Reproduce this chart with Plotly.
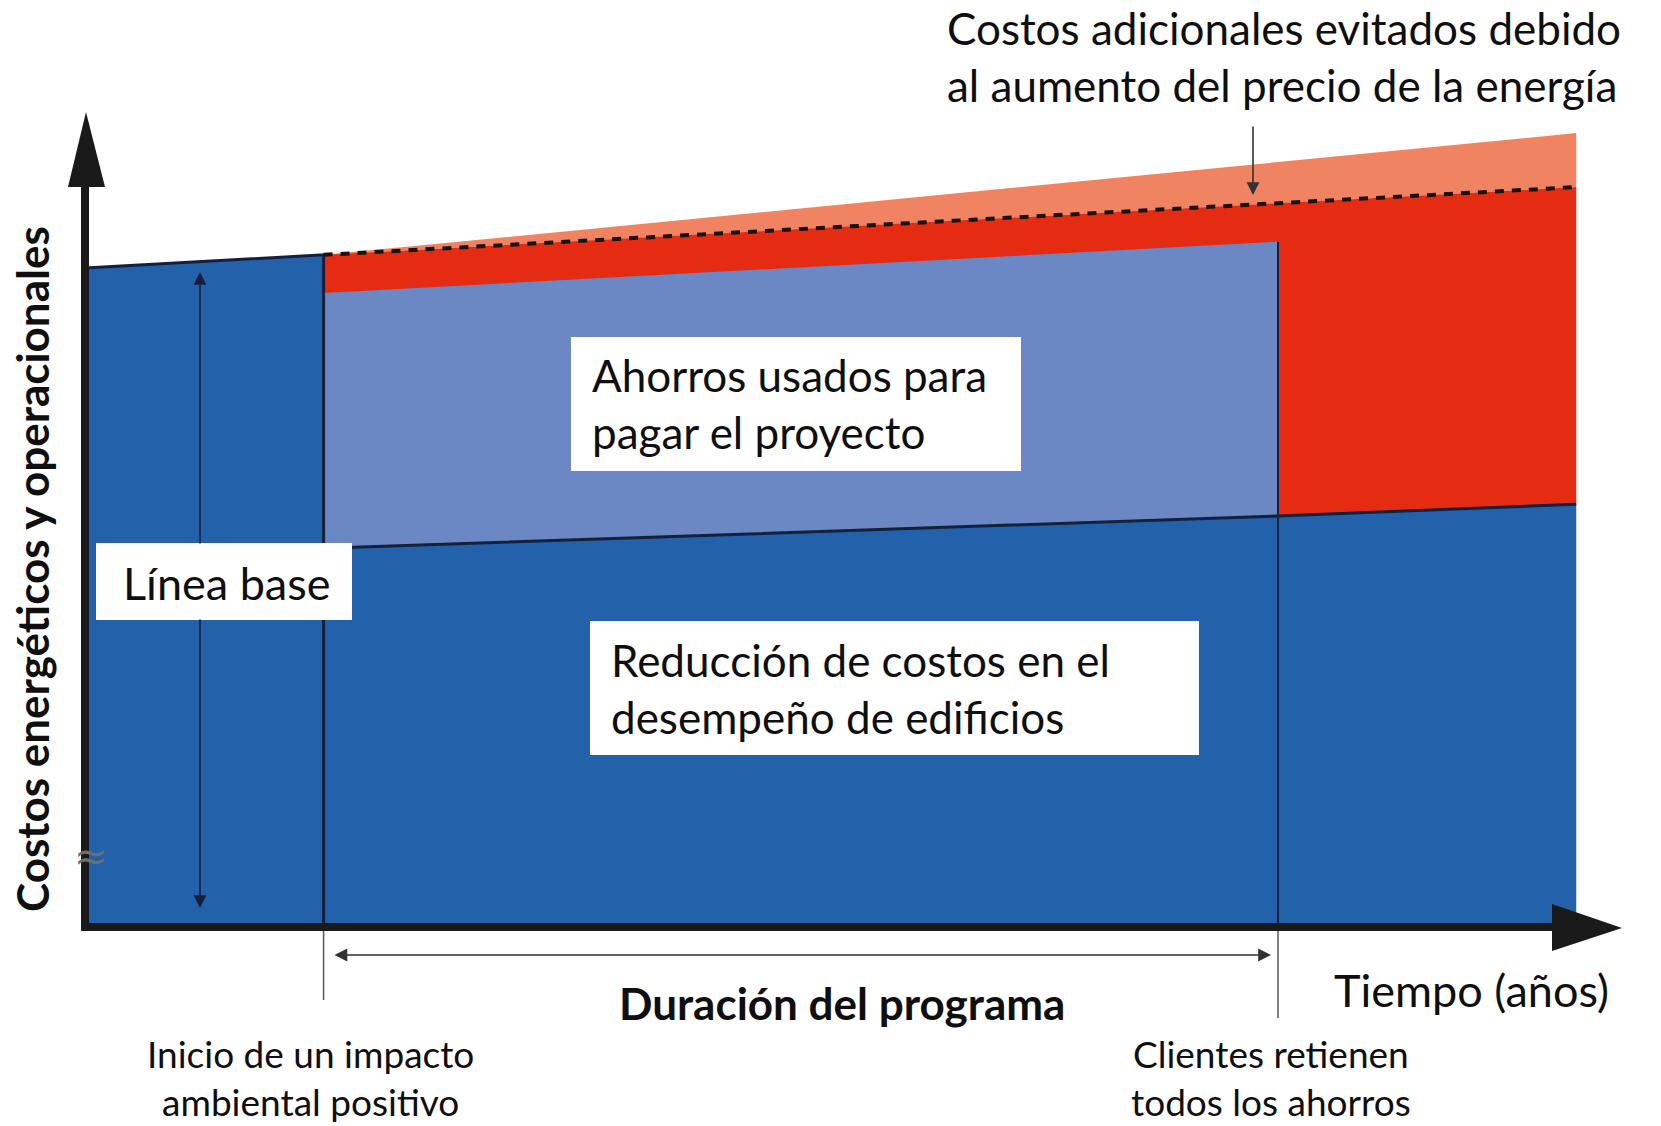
import plotly.graph_objects as go

# ---------------- data (conceptual units: years / relative cost) ----------------
years_base = [0, 2]
cost_base = [100, 102]

years_proj = [2, 10, 12.5]
cost_projected = [102, 109.8, 112.3]          # dashed line: baseline w/o price rise
cost_with_price_rise = [102, 116.1, 120.5]    # top of orange area
years_program = [2, 10]
cost_financed_top = [96.2, 104.0]             # top of light-blue area
cost_after_retrofit = [57.4, 62.3, 64.1]      # reduced costs (dark blue top)

program_start = 2
program_end = 10

# ---------------- canvas geometry ----------------
W, H = 1661, 1126
X0, KX = 85, 119.3     # pixel of t=0, pixels per year
Y0, KY = 926, 6.58     # pixel of cost=0, pixels per unit

def tx(px):
    return (px - X0) / KX

def cy(py):
    return (Y0 - py) / KY

def px_(x):
    return x / W

def py_(y):
    return 1 - y / H

DARK_BLUE = "rgb(35,97,170)"
LIGHT_BLUE = "rgb(107,136,196)"
RED = "rgb(229,43,18)"
ORANGE = "rgb(240,132,98)"
NAVY = "rgb(22,32,58)"
FONT = "Lato"

fig = go.Figure()

def poly(xs, ys, color):
    fig.add_trace(go.Scatter(x=xs, y=ys, fill="toself", fillcolor=color,
                             mode="lines", line=dict(width=0, color=color),
                             hoverinfo="skip", showlegend=False))

# orange: extra avoided costs due to energy price rise
poly(years_proj + years_proj[::-1], cost_with_price_rise + cost_projected[::-1], ORANGE)
# red: savings (area between projected baseline and reduced cost)
poly(years_proj + years_proj[::-1], cost_projected + cost_after_retrofit[::-1], RED)
# light blue: savings used to pay for project
poly(years_program + years_program[::-1],
     cost_financed_top + cost_after_retrofit[:2][::-1], LIGHT_BLUE)
# dark blue: reduced costs
poly(years_proj + [years_proj[-1], years_proj[0]], cost_after_retrofit + [0, 0], DARK_BLUE)
# dark blue: baseline before the project
poly(years_base + years_base[::-1], cost_base + [0, 0], DARK_BLUE)

def line(xs, ys, color, width, dash=None):
    fig.add_trace(go.Scatter(x=xs, y=ys, mode="lines",
                             line=dict(color=color, width=width, dash=dash),
                             hoverinfo="skip", showlegend=False))

# outlines
line([years_base[0], years_base[1], years_base[1]], [cost_base[0], cost_base[1], 0], NAVY, 3)
line(years_proj, cost_after_retrofit, NAVY, 3)
line([program_end, program_end], [cost_financed_top[1], 0], NAVY, 2)
# ticks below the axis
line([program_start, program_start], [0, cy(1000)], "rgb(90,90,90)", 1.5)
line([program_end, program_end], [0, cy(1018)], "rgb(90,90,90)", 1.5)
# dashed projected line
line(years_proj, cost_projected, "rgb(20,20,20)", 4, dash="9px,8px")

shapes = []
AX = "rgb(26,26,26)"
# y axis
shapes.append(dict(type="line", xref="paper", yref="paper",
                   x0=px_(85), x1=px_(85), y0=py_(930), y1=py_(180),
                   line=dict(color=AX, width=8)))
shapes.append(dict(type="path", xref="paper", yref="paper",
                   path=f"M {px_(68)} {py_(187)} L {px_(86)} {py_(112)} L {px_(105)} {py_(187)} Z",
                   fillcolor=AX, line=dict(width=0)))
# x axis
shapes.append(dict(type="line", xref="paper", yref="paper",
                   x0=px_(81), x1=px_(1560), y0=py_(927), y1=py_(927),
                   line=dict(color=AX, width=8)))
shapes.append(dict(type="path", xref="paper", yref="paper",
                   path=f"M {px_(1552)} {py_(904)} L {px_(1622)} {py_(928)} L {px_(1552)} {py_(951)} Z",
                   fillcolor=AX, line=dict(width=0)))

# white label boxes
for (x0, x1, y0, y1) in [(571, 1021, 337, 471), (590, 1199, 621, 755), (96, 352, 543, 620)]:
    shapes.append(dict(type="rect", xref="paper", yref="paper", layer="above",
                       x0=px_(x0), x1=px_(x1), y0=py_(y1), y1=py_(y0),
                       fillcolor="white", line=dict(width=0)))

annotations = []

def text(x, y, s, size, xanchor="left", bold=False, align="left", angle=0):
    annotations.append(dict(x=px_(x), y=py_(y), xref="paper", yref="paper",
                            text=f"<b>{s}</b>" if bold else s, showarrow=False,
                            xanchor=xanchor, yanchor="middle", align=align,
                            textangle=angle,
                            font=dict(family=FONT, size=size, color="rgb(15,15,15)")))

text(590, 404, "Ahorros usados para<br>pagar el proyecto", 44)
text(609, 688, "Reducción de costos en el<br>desempeño de edificios", 44)
text(121, 583, "Línea base", 45)
text(1332, 990, "Tiempo (años)", 45)
text(842, 1003, "Duración del programa", 44, xanchor="center", bold=True)
text(310, 1077, "Inicio de un impacto<br>ambiental positivo", 37, xanchor="center", align="center")
text(1271, 1077, "Clientes retienen<br>todos los ahorros", 37, xanchor="center", align="center")
text(945, 57, "Costos adicionales evitados debido<br>al aumento del precio de la energía", 44)
text(32, 569, "Costos energéticos y operacionales", 44, xanchor="center", bold=True, angle=-90)

annotations.append(dict(x=px_(91), y=py_(856), xref="paper", yref="paper", text="≈",
                        showarrow=False, xanchor="center", yanchor="middle",
                        font=dict(family="DejaVu Sans", size=40, color="rgb(110,110,110)")))

def arrow(x0, y0, x1, y1, color, both=True):
    annotations.append(dict(x=tx(x1), y=cy(y1), ax=tx(x0), ay=cy(y0),
                            xref="x", yref="y", axref="x", ayref="y", text="",
                            showarrow=True, arrowhead=2, arrowsize=1.6, arrowwidth=1.6,
                            arrowcolor=color, standoff=0, startstandoff=0,
                            startarrowhead=2, startarrowsize=1.6,
                            arrowside="end+start" if both else "end"))

# baseline height arrow, interrupted by the "Línea base" box
arrow(200, 545, 200, 272, NAVY, both=False)
arrow(200, 618, 200, 908, NAVY, both=False)
arrow(333, 955, 1271, 955, "rgb(50,50,50)")
arrow(1253, 125, 1253, 195, "rgb(50,50,50)", both=False)

fig.update_layout(
    width=W, height=H, margin=dict(l=0, r=0, t=0, b=0),
    paper_bgcolor="white", plot_bgcolor="white",
    xaxis=dict(range=[tx(0), tx(W)], visible=False, fixedrange=True),
    yaxis=dict(range=[cy(H), cy(0)], visible=False, fixedrange=True),
    shapes=shapes, annotations=annotations, showlegend=False,
)

fig.write_html("out.html", post_script="document.body.style.margin='0';",
               config={"displayModeBar": False})
